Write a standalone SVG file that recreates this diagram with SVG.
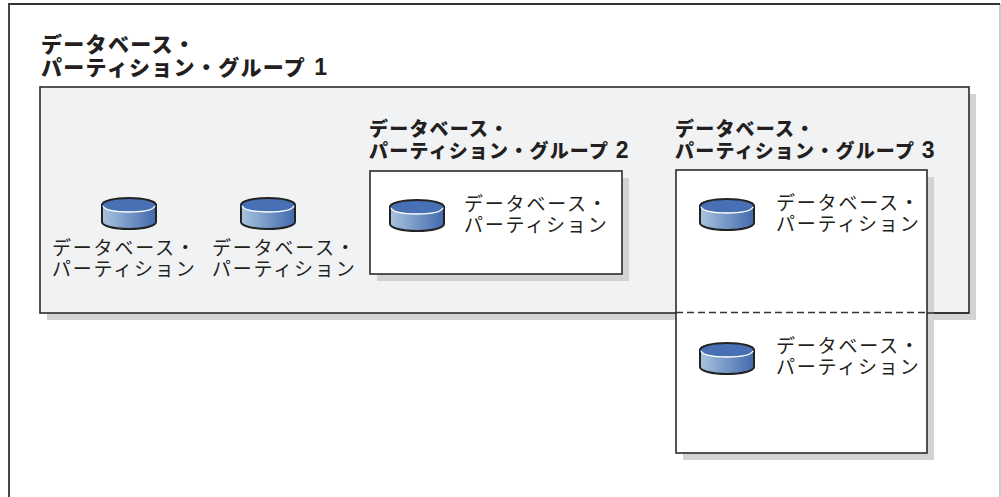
<svg xmlns="http://www.w3.org/2000/svg" width="1001" height="497" viewBox="0 0 1001 497">
<style>
.b{stroke:#2b2b2b;stroke-width:1.6}
.s{fill:#d1d3d4}
text{font-family:"Noto Sans CJK JP","Liberation Sans",sans-serif;fill:#231f20}
.h{font-size:19px;font-weight:900;letter-spacing:1.2px}
.h1{font-size:21px;font-weight:900;letter-spacing:1.3px}
.n{font-family:"Liberation Sans",sans-serif;font-weight:700;font-size:23px}
.l{font-size:19px;font-weight:400;letter-spacing:1.8px}
</style>
<defs>
<linearGradient id="g" x1="0" x2="1" y1="0" y2="0"><stop offset="0" stop-color="#a9c4de"/><stop offset="1" stop-color="#4169ae"/></linearGradient>
<g id="db">
<path d="M0 7V24C0 28 12 31 27 31S54 28 54 24V7Z" fill="url(#g)" stroke="#222" stroke-width="2"/>
<ellipse cx="27" cy="7" rx="27" ry="6.500" fill="#4770b5"/>
<path d="M1 8C3 12 14 14 27 14S51 12 53 8" fill="none" stroke="#fff" stroke-width="1.300"/>
<path d="M0 7C0 3 12 0 27 0S54 3 54 7" fill="none" stroke="#222" stroke-width="2"/>
</g>
</defs>
<rect width="1001" height="497" fill="#fff"/>
<g id="frame"><path d="M1000 4V497" fill="none" stroke="#bbb" stroke-width="1.500"/><path d="M9 497V4H1000" fill="none" stroke="#333" stroke-width="1.800"/></g>
<g id="group1">
<rect class="s" x="47" y="94" width="929" height="226"/>
<rect class="b" x="40" y="87" width="929" height="226" fill="#f1f2f4"/>
<text class="h1" x="41" y="52"><tspan x="41">データベース・</tspan><tspan x="41" dy="23">パーティション・グループ </tspan><tspan class="n" dx="2">1</tspan></text>
</g>
<g id="partition1"><use href="#db" x="102" y="198"/><text class="l" x="52" y="255"><tspan x="52">データベース・</tspan><tspan x="52" dy="21">パーティション</tspan></text></g>
<g id="partition2"><use href="#db" x="241" y="198"/><text class="l" x="212" y="255"><tspan x="212">データベース・</tspan><tspan x="212" dy="21">パーティション</tspan></text></g>
<g id="group2">
<rect class="s" x="377" y="178" width="252" height="103"/>
<rect class="b" x="370" y="171" width="252" height="103" fill="#fff"/>
<text class="h" x="369" y="136"><tspan x="369">データベース・</tspan><tspan x="369" dy="22">パーティション・グループ </tspan><tspan class="n" dx="1">2</tspan></text>
</g>
<g id="partition3"><use href="#db" x="390" y="200"/><text class="l" x="464" y="211"><tspan x="464">データベース・</tspan><tspan x="464" dy="21">パーティション</tspan></text></g>
<g id="group3">
<rect class="s" x="683" y="177" width="251" height="283"/>
<rect class="b" x="676" y="170" width="251" height="283" fill="#fff"/>
<text class="h" x="675" y="136"><tspan x="675">データベース・</tspan><tspan x="675" dy="22">パーティション・グループ </tspan><tspan class="n" dx="1">3</tspan></text>
</g>
<g id="connectors"><line x1="676" y1="312.500" x2="927" y2="312.500" stroke="#333" stroke-width="1.300" stroke-dasharray="7 4"/><line x1="927" y1="313" x2="969" y2="313" class="b"/></g>
<g id="partition4"><use href="#db" x="700" y="199"/><text class="l" x="776" y="210"><tspan x="776">データベース・</tspan><tspan x="776" dy="21">パーティション</tspan></text></g>
<g id="partition5"><use href="#db" x="700" y="343"/><text class="l" x="776" y="353"><tspan x="776">データベース・</tspan><tspan x="776" dy="21">パーティション</tspan></text></g>
</svg>
